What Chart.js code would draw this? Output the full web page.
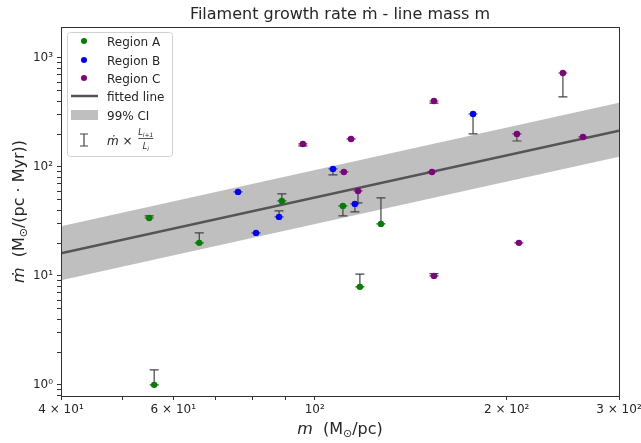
<!DOCTYPE html>
<html>
<head>
<meta charset="utf-8">
<script src="https://cdn.jsdelivr.net/npm/chart.js@4.4.1/dist/chart.umd.min.js"></script>
<style>
  html, body { margin: 0; padding: 0; background: #fff; }
</style>
</head>
<body>
<canvas id="growth" width="641" height="443"></canvas>
<script>
// line mass m (Msun/pc), growth rate mdot, and mdot scaled by L_{i+1}/L_i
const massA = [55.0, 65.9, 56.0, 88.8, 110.7, 117.7, 127.0];
const rateA = [34.0, 20.1, 1.0, 48.8, 43.9, 7.93, 30.0];
const scaledA = [35.5, 24.8, 1.37, 56.5, 35.5, 10.4, 51.9];

const massB = [75.8, 80.9, 87.9, 106.8, 115.6, 177.1];
const rateB = [59.0, 24.8, 34.8, 95.9, 45.8, 306];
const scaledB = [59.0, 24.8, 39.5, 84.5, 38.7, 201];

const massC = [95.8, 114.0, 111.1, 116.9, 153.8, 152.7, 153.8, 207.5, 209, 245, 263.4];
const rateC = [162.6, 180.7, 90.0, 60.2, 403, 90.0, 10.0, 201, 20.1, 728, 188.5];
const scaledC = [156, 180.7, 90.0, 46.7, 386, 90.0, 10.5, 173, 20.1, 439, 188.5];

// power-law fit and its 99% band, at the axis ends
const fitMass = [40, 300];
const fitRate = [16.1, 215];
const ciUpper = [28.5, 388];
const ciLower = [9.1, 124];

const xTickValues = [40, 50, 60, 70, 80, 90, 100, 200, 300];
const xTickLabels = ['4 × 10¹', '', '6 × 10¹', '', '', '', '10²', '2 × 10²', '3 × 10²'];
const yTickValues = [0.8, 0.9, 1, 2, 3, 4, 5, 6, 7, 8, 9, 10, 20, 30, 40, 50, 60, 70, 80, 90,
  100, 200, 300, 400, 500, 600, 700, 800, 900, 1000];
const yTickLabels = { 1: '10⁰', 10: '10¹', 100: '10²', 1000: '10³' };

const FONT = '"DejaVu Sans", sans-serif';
const TEXT = '#262626';
const BAND = 'rgba(128,128,128,0.5)';
const FIT = '#555555';
const ERR = '#444444';
const colours = { A: '#008000', B: '#0000ff', C: '#800080' };

const toPoints = (xs, ys) => xs.map((x, i) => ({ x, y: ys[i] }));

function setFont(ctx, run) {
  ctx.font = `${run.style || 'normal'} ${run.size}px ${FONT}`;
}

function runsWidth(ctx, runs) {
  return runs.reduce((w, r) => { setFont(ctx, r); return w + ctx.measureText(r.text).width; }, 0);
}

function drawRuns(ctx, runs, x, y, align) {
  let cx = align === 'center' ? x - runsWidth(ctx, runs) / 2 : x;
  ctx.textAlign = 'left';
  ctx.textBaseline = 'alphabetic';
  runs.forEach(r => {
    setFont(ctx, r);
    ctx.fillText(r.text, cx, y + (r.dy || 0));
    cx += ctx.measureText(r.text).width;
  });
  return cx;
}

function errorBar(ctx, x, y0, y1, half) {
  ctx.beginPath();
  ctx.moveTo(x, y0);
  ctx.lineTo(x, y1);
  ctx.moveTo(x - half, y0);
  ctx.lineTo(x + half, y0);
  ctx.moveTo(x - half, y1);
  ctx.lineTo(x + half, y1);
  ctx.stroke();
}

const errorBars = {
  id: 'errorBars',
  afterDatasetDraw(chart, args) {
    if (args.index !== 2) return;
    const { ctx, scales } = chart;
    const groups = [[massA, rateA, scaledA], [massB, rateB, scaledB], [massC, rateC, scaledC]];
    ctx.save();
    ctx.strokeStyle = ERR;
    ctx.lineWidth = 1.2;
    groups.forEach(([ms, rs, ss]) => {
      ms.forEach((m, i) => {
        const x = scales.x.getPixelForValue(m);
        errorBar(ctx, x, scales.y.getPixelForValue(rs[i]), scales.y.getPixelForValue(ss[i]), 4.5);
      });
    });
    ctx.restore();
  },
};

const decorations = {
  id: 'decorations',
  afterDraw(chart) {
    const { ctx, chartArea: a } = chart;
    ctx.save();

    // frame
    ctx.strokeStyle = '#333';
    ctx.lineWidth = 1;
    ctx.strokeRect(Math.round(a.left) + 0.5, Math.round(a.top) + 0.5,
      Math.round(a.right - a.left), Math.round(a.bottom - a.top));

    ctx.fillStyle = TEXT;
    const cx = (a.left + a.right) / 2;

    // title
    drawRuns(ctx, [{ text: 'Filament growth rate ṁ - line mass m', size: 16 }], cx, 19, 'center');

    // x label
    drawRuns(ctx, [
      { text: 'm', size: 16, style: 'italic' },
      { text: '  (M', size: 16 },
      { text: '⊙', size: 11, dy: 3 },
      { text: '/pc)', size: 16 },
    ], cx, 434, 'center');

    // y label
    ctx.save();
    ctx.translate(24, (a.top + a.bottom) / 2);
    ctx.rotate(-Math.PI / 2);
    drawRuns(ctx, [
      { text: 'ṁ', size: 16, style: 'italic' },
      { text: '  (M', size: 16 },
      { text: '⊙', size: 11, dy: 3 },
      { text: '/(pc · Myr))', size: 16 },
    ], 0, 0, 'center');
    ctx.restore();

    // legend
    ctx.beginPath();
    ctx.roundRect(67.5, 32.5, 105, 124, 3);
    ctx.fillStyle = 'rgba(255,255,255,0.8)';
    ctx.fill();
    ctx.strokeStyle = '#d0d0d0';
    ctx.stroke();

    const labelX = 107;
    const markX = 84;
    [['Region A', colours.A, 41], ['Region B', colours.B, 60], ['Region C', colours.C, 78]].forEach(([t, c, y]) => {
      ctx.beginPath();
      ctx.arc(markX, y, 3, 0, Math.PI * 2);
      ctx.fillStyle = c;
      ctx.fill();
      ctx.fillStyle = TEXT;
      drawRuns(ctx, [{ text: t, size: 12 }], labelX, y + 4.5);
    });

    ctx.strokeStyle = FIT;
    ctx.lineWidth = 2.5;
    ctx.beginPath();
    ctx.moveTo(71, 96);
    ctx.lineTo(98, 96);
    ctx.stroke();
    drawRuns(ctx, [{ text: 'fitted line', size: 12 }], labelX, 100.5);

    ctx.fillStyle = BAND;
    ctx.fillRect(71, 110, 27, 10);
    ctx.fillStyle = TEXT;
    drawRuns(ctx, [{ text: '99% CI', size: 12 }], labelX, 119.5);

    ctx.strokeStyle = ERR;
    ctx.lineWidth = 1.2;
    errorBar(ctx, markX, 146, 134, 4);

    const end = drawRuns(ctx, [
      { text: 'ṁ', size: 12, style: 'italic' },
      { text: ' × ', size: 12 },
    ], labelX, 144.5);
    const num = [{ text: 'L', size: 8, style: 'italic' }, { text: 'i+1', size: 6, style: 'italic', dy: 2 }];
    const den = [{ text: 'L', size: 8, style: 'italic' }, { text: 'i', size: 6, style: 'italic', dy: 2 }];
    const fw = runsWidth(ctx, num);
    const fx = end + 2 + fw / 2;
    drawRuns(ctx, num, fx, 135, 'center');
    drawRuns(ctx, den, fx, 149, 'center');
    ctx.strokeStyle = TEXT;
    ctx.lineWidth = 0.8;
    ctx.beginPath();
    ctx.moveTo(fx - fw / 2, 138.5);
    ctx.lineTo(fx + fw / 2, 138.5);
    ctx.stroke();

    ctx.restore();
  },
};

const tickFont = { family: FONT, size: 12 };

new Chart(document.getElementById('growth'), {
  type: 'scatter',
  data: {
    datasets: [
      {
        label: '99% CI',
        data: toPoints(fitMass, ciUpper),
        showLine: true,
        borderWidth: 0,
        pointRadius: 0,
        fill: '+1',
        backgroundColor: BAND,
        order: 5,
      },
      {
        label: 'ci lower',
        data: toPoints(fitMass, ciLower),
        showLine: true,
        borderWidth: 0,
        pointRadius: 0,
        fill: false,
        order: 5,
      },
      {
        label: 'fitted line',
        data: toPoints(fitMass, fitRate),
        showLine: true,
        borderColor: FIT,
        borderWidth: 2.5,
        pointRadius: 0,
        order: 4,
      },
      { label: 'Region A', data: toPoints(massA, rateA), backgroundColor: colours.A, borderColor: colours.A, pointRadius: 3.2, borderWidth: 0, order: 1 },
      { label: 'Region B', data: toPoints(massB, rateB), backgroundColor: colours.B, borderColor: colours.B, pointRadius: 3.2, borderWidth: 0, order: 1 },
      { label: 'Region C', data: toPoints(massC, rateC), backgroundColor: colours.C, borderColor: colours.C, pointRadius: 3.2, borderWidth: 0, order: 1 },
    ],
  },
  options: {
    responsive: false,
    animation: false,
    devicePixelRatio: 1,
    layout: { padding: { top: 27, right: 22, bottom: 0, left: 0 } },
    plugins: {
      legend: { display: false },
      title: { display: false },
      tooltip: { enabled: false },
    },
    scales: {
      x: {
        type: 'logarithmic',
        min: 40,
        max: 300,
        afterBuildTicks: scale => { scale.ticks = xTickValues.map(value => ({ value })); },
        afterFit: scale => {
          scale.height = 47;
          scale.paddingLeft = 0;
          scale.paddingRight = 0;
        },
        ticks: {
          callback: value => xTickLabels[xTickValues.indexOf(value)] ?? '',
          autoSkip: false,
          maxRotation: 0,
          padding: 3,
          color: TEXT,
          font: tickFont,
        },
        grid: { drawOnChartArea: false, tickLength: 4, tickColor: '#333' },
        border: { display: false },
      },
      y: {
        type: 'logarithmic',
        min: 0.79,
        max: 1925,
        afterBuildTicks: scale => { scale.ticks = yTickValues.map(value => ({ value })); },
        afterFit: scale => {
          scale.width = 61;
          scale.paddingTop = 0;
          scale.paddingBottom = 0;
        },
        ticks: {
          callback: value => yTickLabels[value] ?? '',
          autoSkip: false,
          padding: 4,
          color: TEXT,
          font: tickFont,
        },
        grid: { drawOnChartArea: false, tickLength: 4, tickColor: '#333' },
        border: { display: false },
      },
    },
  },
  plugins: [errorBars, decorations],
});
</script>
</body>
</html>
